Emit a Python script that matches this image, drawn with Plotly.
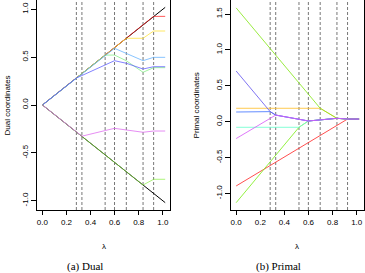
import plotly.graph_objects as go

# breakpoints of the path (lambda values)
lam = [0.0, 0.282, 0.328, 0.521, 0.599, 0.697, 0.836, 0.924, 1.02]
kinks = [0.282, 0.328, 0.521, 0.599, 0.697, 0.836, 0.924]

# ---- dual coordinates ----
dual_upper = [0.0, 0.282, 0.328, 0.521, 0.599, 0.697, 0.836, 0.924, 1.02]
dual_lower = [0.0, -0.282, -0.328, -0.521, -0.599, -0.697, -0.836, -0.924, -1.02]
dual_red = [0.0, 0.282, 0.328, 0.521, 0.599, 0.697, 0.836, 0.926, 0.926]
dual_yellow = [0.0, 0.282, 0.328, 0.521, 0.599, 0.697, 0.697, 0.773, 0.773]
dual_green = [0.0, 0.282, 0.328, 0.521, 0.522, 0.462, 0.342, 0.390, 0.390]
dual_sky = [0.0, 0.282, 0.328, 0.521, 0.592, 0.539, 0.463, 0.498, 0.498]
dual_blue = [0.0, 0.282, 0.308, 0.418, 0.463, 0.436, 0.376, 0.400, 0.400]
dual_lgreen = [0.0, -0.282, -0.328, -0.521, -0.599, -0.697, -0.836, -0.776, -0.776]
dual_violet = [0.0, -0.282, -0.326, -0.267, -0.244, -0.261, -0.285, -0.272, -0.272]

# ---- primal coordinates ----
pr_red = [-0.895, -0.610, -0.564, -0.369, -0.291, -0.192, -0.051, 0.037, 0.037]
pr_green = [-1.128, -0.560, -0.467, -0.078, 0.010, 0.025, 0.047, 0.037, 0.037]
pr_aqua = [-0.078, -0.078, -0.078, -0.078, 0.010, 0.025, 0.047, 0.037, 0.037]
pr_orange = [0.187, 0.187, 0.187, 0.187, 0.187, 0.187, 0.047, 0.037, 0.037]
pr_lime = [1.585, 1.021, 0.929, 0.543, 0.387, 0.187, 0.047, 0.037, 0.037]
pr_royal = [0.135, 0.140, 0.092, 0.034, 0.010, 0.025, 0.047, 0.037, 0.037]
pr_slate = [0.706, 0.140, 0.092, 0.034, 0.010, 0.025, 0.047, 0.037, 0.037]
pr_violet = [-0.235, 0.046, 0.092, 0.034, 0.010, 0.025, 0.047, 0.037, 0.037]

xt = [0.0, 0.2, 0.4, 0.6, 0.8, 1.0]
xt_txt = ["0.0", "0.2", "0.4", "0.6", "0.8", "1.0"]
yt1 = [-1.0, -0.5, 0.0, 0.5, 1.0]
yt1_txt = ["-1.0", "-0.5", "0.0", "0.5", "1.0"]
yt2 = [-1.0, -0.5, 0.0, 0.5, 1.0, 1.5]
yt2_txt = ["-1.0", "-0.5", "0.0", "0.5", "1.0", "1.5"]

W, H = 365, 273
fig = go.Figure()

def add(y, color, xa, ya, op=0.75):
    fig.add_trace(go.Scatter(x=lam, y=y, mode="lines", xaxis=xa, yaxis=ya,
                             line=dict(color=color, width=1), opacity=op,
                             showlegend=False, hoverinfo="skip"))

# dual panel
add(dual_upper, "#000000", "x", "y", 1)
add(dual_lower, "#000000", "x", "y", 1)
add(dual_red, "#FF2020", "x", "y")
add(dual_yellow, "#FFE030", "x", "y")
add(dual_green, "#80EE80", "x", "y")
add(dual_sky, "#60B0FF", "x", "y")
add(dual_blue, "#5858FF", "x", "y")
add(dual_lgreen, "#88EE40", "x", "y", 0.7)
add(dual_violet, "#E070F0", "x", "y", 0.8)

# primal panel
add(pr_red, "#FF3030", "x2", "y2", 0.85)
add(pr_green, "#80EE20", "x2", "y2", 0.85)
add(pr_aqua, "#70FFD0", "x2", "y2", 0.85)
add(pr_orange, "#FFC030", "x2", "y2", 0.85)
add(pr_lime, "#88E820", "x2", "y2", 0.85)
add(pr_royal, "#4878FF", "x2", "y2", 0.85)
add(pr_slate, "#6A5CF0", "x2", "y2", 0.85)
add(pr_violet, "#D860F8", "x2", "y2", 0.85)

shapes = []
for xr, yr in (("x", "y domain"), ("x2", "y2 domain")):
    for k in kinks:
        shapes.append(dict(type="line", xref=xr, yref=yr, x0=k, x1=k, y0=0, y1=1,
                           line=dict(color="#777777", width=1, dash="3px,2px"),
                           layer="below"))

tickfont = dict(family="Liberation Sans, Arial, sans-serif", size=8, color="#000000")

def xaxis(dom, anchor):
    return dict(domain=dom, range=[-0.041, 1.0605], tickvals=xt, ticktext=xt_txt,
                ticks="outside", ticklen=4, tickcolor="#000000", tickwidth=1,
                showline=True, linecolor="#000000", linewidth=1, mirror=False,
                showgrid=False, zeroline=False, tickfont=tickfont, anchor=anchor,
                fixedrange=True)

def yaxis(rng, tv, tt, anchor):
    return dict(domain=[63 / H, 1.0], range=rng, tickvals=tv, ticktext=tt,
                ticks="outside", ticklen=5, tickcolor="#000000", tickwidth=1,
                tickangle=-90, showline=True, linecolor="#000000", linewidth=1,
                mirror=True, showgrid=False, zeroline=False, tickfont=tickfont,
                anchor=anchor, fixedrange=True)

lab = dict(family="Liberation Sans, Arial, sans-serif", size=8, color="#000000")
cap = dict(family="Liberation Serif", size=11, color="#000000")
ann = [
    dict(text="Dual coordinates", x=7.5 / W, y=(H - 105) / H, textangle=-90, font=lab),
    dict(text="Primal coordinates", x=197.5 / W, y=(H - 105) / H, textangle=-90, font=lab),
    dict(text="λ", x=103.3 / W, y=(H - 246) / H, font=lab),
    dict(text="λ", x=298 / W, y=(H - 246) / H, font=lab),
    dict(text="(a) Dual", x=84.3 / W, y=(H - 266.5) / H, font=cap),
    dict(text="(b) Primal", x=279.2 / W, y=(H - 266.5) / H, font=cap),
]
for a in ann:
    a.update(xref="paper", yref="paper", showarrow=False, xanchor="center", yanchor="middle")

fig.update_layout(
    width=W, height=H, margin=dict(l=0, r=0, t=0, b=0),
    paper_bgcolor="white", plot_bgcolor="white",
    xaxis=xaxis([36.7 / W, 170 / W], "y"),
    yaxis=yaxis([-1.097, 1.097], yt1, yt1_txt, "x"),
    xaxis2=xaxis([231.5 / W, 1.0], "y2"),
    yaxis2=yaxis([-1.23, 1.695], yt2, yt2_txt, "x2"),
    shapes=shapes, annotations=ann, showlegend=False,
)

fig.write_html("out.html", config={"displayModeBar": False, "staticPlot": True},
               post_script="document.body.style.margin='0';document.body.style.overflow='hidden';")
